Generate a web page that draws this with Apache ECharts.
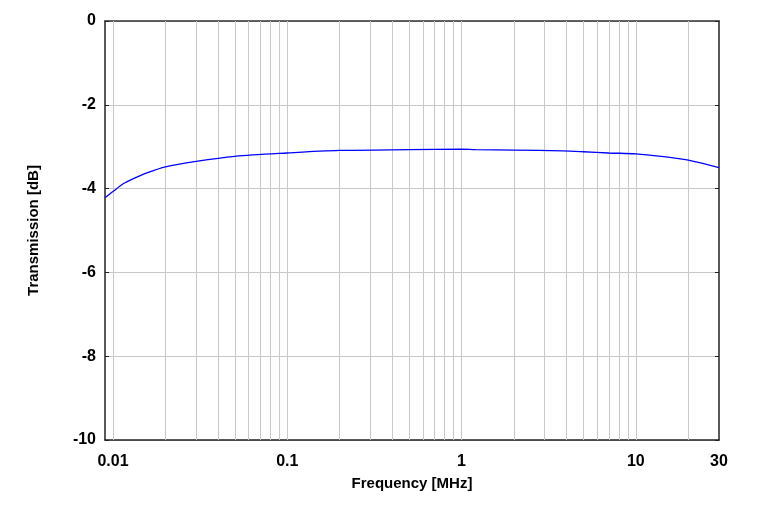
<!DOCTYPE html>
<html>
<head>
<meta charset="utf-8">
<script src="https://cdn.jsdelivr.net/npm/echarts@6/dist/echarts.min.js"></script>
<style>
  html, body { margin: 0; padding: 0; background: #fff; }
  #chart { width: 762px; height: 505px; }
</style>
</head>
<body>
<div id="chart"></div>
<script>

// frequency in MHz, transmission in dB
var freq = [0.009, 0.01, 0.0115, 0.013, 0.0158, 0.02, 0.03, 0.05, 0.1, 0.2, 0.5, 1, 1.2, 2, 3.8, 5, 7, 10, 14, 20, 30];
var transmission = [-4.22, -4.07, -3.88, -3.77, -3.62, -3.48, -3.35, -3.23, -3.15, -3.09, -3.07, -3.06, -3.07, -3.08, -3.10, -3.12, -3.15, -3.17, -3.23, -3.32, -3.50];

var freqLabels = [0.01, 0.1, 1, 10, 30];
var gridFreqs = [0.01, 0.02, 0.03, 0.04, 0.05, 0.06, 0.07, 0.08, 0.09,
                 0.1, 0.2, 0.3, 0.4, 0.5, 0.6, 0.7, 0.8, 0.9,
                 1, 2, 3, 4, 5, 6, 7, 8, 9,
                 10, 20];

var global = {};

InitChart();

function InitChart() {

    global.chart = echarts.init(document.getElementById('chart'));

    var points = [];
    for (var i = 0; i < freq.length; i++) {
        points.push([freq[i], transmission[i]]);
    }

    var gridLines = [];
    for (var j = 0; j < gridFreqs.length; j++) {
        gridLines.push({ xAxis: gridFreqs[j] });
    }

    var labelFont = {
        fontFamily: 'Liberation Sans, Arial, sans-serif',
        fontWeight: 'bold',
        fontSize: 16,
        color: '#000'
    };

    global.option = {
        animation: false,
        backgroundColor: '#fff',
        grid: {
            left: 105,
            right: 43,
            top: 21,
            bottom: 65
        },
        xAxis: [{
            type: 'log',
            min: 0.009,
            max: 30,
            name: 'Frequency [MHz]',
            nameLocation: 'middle',
            nameGap: 36,
            nameTextStyle: {
                fontFamily: 'Liberation Sans, Arial, sans-serif',
                fontWeight: 'bold',
                fontSize: 15,
                color: '#000'
            },
            axisLine: { show: true, onZero: false, lineStyle: { color: '#222', width: 1.5 } },
            axisTick: { show: false },
            splitLine: { show: false },
            axisLabel: Object.assign({
                customValues: freqLabels,
                margin: 14,
                formatter: function (v) { return String(Math.round(v * 1000) / 1000); }
            }, labelFont)
        }, {
            type: 'log',
            position: 'top',
            min: 0.009,
            max: 30,
            axisLine: { show: true, lineStyle: { color: '#333', width: 1.5 } },
            axisTick: {
                show: true,
                inside: true,
                length: 3,
                customValues: gridFreqs,
                lineStyle: { color: '#222', width: 1 }
            },
            axisLabel: { show: false },
            splitLine: { show: false }
        }],
        yAxis: [{
            type: 'value',
            min: -10,
            max: 0,
            interval: 2,
            name: 'Transmission [dB]',
            nameLocation: 'middle',
            nameGap: 64,
            nameTextStyle: {
                fontFamily: 'Liberation Sans, Arial, sans-serif',
                fontWeight: 'bold',
                fontSize: 15,
                color: '#000'
            },
            axisLine: { show: true, onZero: false, lineStyle: { color: '#222', width: 1.5 } },
            axisTick: { show: true, inside: true, length: 4, lineStyle: { color: '#222' } },
            splitLine: { show: true, lineStyle: { color: '#c8c8c8', width: 1 } },
            axisLabel: Object.assign({ margin: 9 }, labelFont)
        }, {
            type: 'value',
            position: 'right',
            min: -10,
            max: 0,
            interval: 2,
            axisLine: { show: true, lineStyle: { color: '#222', width: 1.5 } },
            axisTick: { show: true, inside: true, length: 4, lineStyle: { color: '#222' } },
            axisLabel: { show: false },
            splitLine: { show: false }
        }],
        series: [{
            name: 'Transmission',
            type: 'line',
            data: points,
            smooth: 0.3,
            showSymbol: false,
            symbol: 'none',
            z: 5,
            lineStyle: { color: '#0000ff', width: 1.3 },
            markLine: {
                silent: true,
                symbol: ['none', 'none'],
                label: { show: false },
                lineStyle: { color: '#c8c8c8', type: 'solid', width: 1 },
                data: gridLines,
                z: 1
            }
        }]
    };

    global.chart.setOption(global.option);
}
</script>
</body>
</html>
